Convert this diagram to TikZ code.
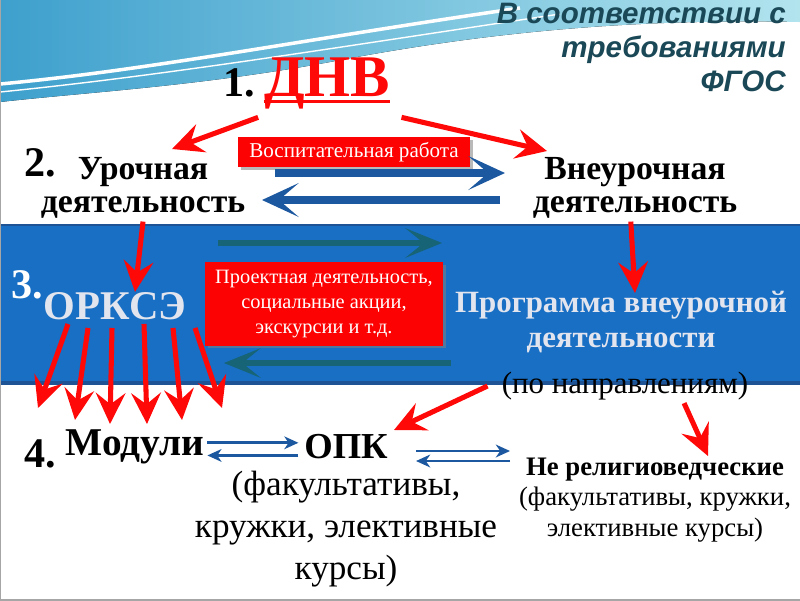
\documentclass[tikz,border=0pt]{standalone}
\usepackage{fontspec}
\setmainfont{Liberation Serif}
\newfontfamily\headfont{Liberation Sans}
\usepackage{xcolor}
\usetikzlibrary{positioning}
\usetikzlibrary{calc}
\usetikzlibrary{shadows}
\usetikzlibrary{arrows.meta}

\definecolor{bandblue}{RGB}{24,111,196}
\definecolor{bandedge}{RGB}{30,84,150}
\definecolor{arrowred}{RGB}{255,8,8}
\definecolor{boxred}{RGB}{252,2,2}
\definecolor{darkblue}{RGB}{28,88,160}
\definecolor{tealline}{RGB}{22,100,118}
\definecolor{headteal}{RGB}{26,72,86}
\definecolor{palegray}{RGB}{226,228,238}
\definecolor{wavedark}{RGB}{62,160,205}
\definecolor{wavelight}{RGB}{178,228,238}

\begin{document}
\begin{tikzpicture}[
      x=0.025cm, y=-0.025cm,
      num/.style={font=\fontsize{30}{30}\selectfont\bfseries, inner sep=0pt},
      act/.style={font=\fontsize{24}{23.5}\selectfont\bfseries, align=center, inner sep=0pt},
      band/.style={font=\fontsize{22}{25.5}\selectfont\bfseries, align=center, inner sep=0pt, text=palegray},
      plain/.style={font=\fontsize{25}{30}\selectfont, align=center, inner sep=0pt},
      redbox/.style={fill=boxred, text=white, align=center, inner sep=0pt,
        drop shadow={shadow xshift=2pt, shadow yshift=-2pt, opacity=0.55}},
      redarrow/.style={draw=arrowred, line width=3.6pt, -{Stealth[length=22pt,width=21pt,inset=8pt]}},
      bluearrow/.style={draw=darkblue, line width=5pt, -{Stealth[length=26pt,width=24pt,inset=14pt]}},
      tealarrow/.style={draw=tealline, line width=4.3pt, -{Stealth[length=26pt,width=21pt,inset=13pt]}},
      thinarrow/.style={draw=darkblue, line width=2pt, -{Stealth[length=10pt,width=9pt,inset=3pt]}}
      ]

      % background
      \useasboundingbox (0,0) rectangle (800,600);
      \fill[white] (0,0) rectangle (800,600);
      \fill[left color=wavedark, right color=wavelight]
        (0,0) -- (800,0) -- (800,22) .. controls (620,18) and (470,35) .. (330,62)
        .. controls (200,86) and (90,92) .. (0,102) -- cycle;
      \draw[white, line width=2.5pt] (0,84) .. controls (150,70) and (300,40) .. (520,8);
      \draw[white, line width=1pt] (0,92) .. controls (160,76) and (320,50) .. (560,14);
      \fill[bandblue] (0,225) rectangle (800,383);
      \draw[bandedge, line width=1.5pt] (0,225) -- (800,225);
      \draw[bandedge, line width=2.5pt] (0,383) -- (800,383);
      \draw[gray!70, line width=1pt] (0,0) -- (0,600) -- (800,600);

      % heading
      \node[anchor=north east, align=right, inner sep=0pt, text=headteal,
        font=\headfont\fontsize{21}{24}\selectfont\bfseries\itshape] (head) at (786,3)
        {В соответствии с\\требованиями\\ФГОС};

      % level 1 and 2
      \node[font=\fontsize{42}{42}\selectfont\bfseries, text=arrowred, inner sep=0pt] (dnv) at (327,83) {ДНВ};
      \draw[arrowred, line width=2.4pt] ([yshift=-4pt]dnv.base west) -- ([yshift=-4pt]dnv.base east);
      \node[num, left=6pt of dnv.base west, anchor=base east] (n1) {1.};
      \node[num] (n2) at (40,163) {2.};
      \node[act] (uroch) at (143,188) {Урочная\\деятельность};
      \node[act] (vneur) at (635,188) {Внеурочная\\деятельность};
      \node[redbox, minimum width=5.8cm, minimum height=0.75cm,
        font=\fontsize{15}{15}\selectfont] (vosp) at (354,152) {Воспитательная работа};

      % level 3
      \node[num, text=white] (n3) at (27,285) {3.};
      \node[font=\fontsize{29}{29}\selectfont\bfseries, text=palegray, inner sep=0pt] (ork) at (115,306) {ОРКСЭ};
      \node[redbox, minimum width=5.95cm, minimum height=2.075cm,
        font=\fontsize{14.5}{17.5}\selectfont] (proj) at (324,304)
        {Проектная деятельность,\\социальные акции,\\экскурсии и т.д.};
      \node[band] (prog) at (621,322) {Программа внеурочной\\деятельности};
      \node[plain, font=\fontsize{22}{22}\selectfont] (napr) at (625,386) {(по направлениям)};

      % level 4
      \node[num] (n4) at (40,454) {4.};
      \node[font=\fontsize{28}{28}\selectfont\bfseries, inner sep=0pt] (mod) at (135,447) {Модули};
      \node[font=\fontsize{26}{26}\selectfont\bfseries, inner sep=0pt] (opk) at (346,447) {ОПК};
      \node[plain, below=8pt of opk] (opkdesc) {(факультативы,\\кружки, элективные\\курсы)};
      \node[plain, font=\fontsize{19}{21.5}\selectfont] (nrel) at (655,500)
        {\textbf{Не религиоведческие}\\(факультативы, кружки,\\элективные курсы)};

      % free arrow ends
      \coordinate (t1) at (172,149);
      \coordinate (t2) at (547,151);
      \coordinate (t3) at (135,292);
      \coordinate (t4) at (635,293);
      \coordinate (t5) at (394,430);
      \coordinate (t6) at (708,456);
      \coordinate (f1) at (38,408);
      \coordinate (f2) at (75,420);
      \coordinate (f3) at (110,424);
      \coordinate (f4) at (147,424);
      \coordinate (f5) at (182,420);
      \coordinate (f6) at (222,408);
      \coordinate (b1) at (275,173);
      \coordinate (b2) at (505,173);
      \coordinate (b3) at (500,200);
      \coordinate (b4) at (262,200);
      \coordinate (g1) at (218,243);
      \coordinate (g2) at (442,243);
      \coordinate (g3) at (451,363);
      \coordinate (g4) at (224,363);
      \coordinate (d1) at (416,451);
      \coordinate (d2) at (510,451);
      \coordinate (d3) at (510,461);
      \coordinate (d4) at (416,461);

      \draw[bluearrow] (b1) -- (b2);
      \draw[bluearrow] (b3) -- (b4);
      \draw[tealarrow] (g1) -- (g2);
      \draw[tealarrow] (g3) -- (g4);

      \path ([xshift=-4pt,yshift=-6pt]dnv.south west) edge[redarrow] (t1)
      ([xshift=8pt,yshift=-6pt]dnv.south east) edge[redarrow] (t2)
      ([yshift=-2pt]uroch.south) edge[redarrow] (t3)
      ([xshift=-3pt,yshift=-2pt]vneur.south) edge[redarrow] (t4)
      ([xshift=-10pt]napr.west) edge[redarrow] (t5)
      ([xshift=42pt,yshift=-2pt]napr.south) edge[redarrow] (t6)
      ($(ork.south)+(-47,4)$) edge[redarrow] (f1)
      ($(ork.south)+(-27,8)$) edge[redarrow] (f2)
      ($(ork.south)+(-3,8)$) edge[redarrow] (f3)
      ($(ork.south)+(29,4)$) edge[redarrow] (f4)
      ($(ork.south)+(58,8)$) edge[redarrow] (f5)
      ($(ork.south)+(80,8)$) edge[redarrow] (f6)
      ;

      \path ([xshift=2pt,yshift=3pt]mod.east) edge[thinarrow] ([xshift=-4pt,yshift=3pt]opk.west)
      ([xshift=-4pt,yshift=-6pt]opk.west) edge[thinarrow] ([xshift=2pt,yshift=-6pt]mod.east)
      (d1) edge[thinarrow] (d2)
      (d3) edge[thinarrow] (d4)
      ;
    \end{tikzpicture}
\end{document}
